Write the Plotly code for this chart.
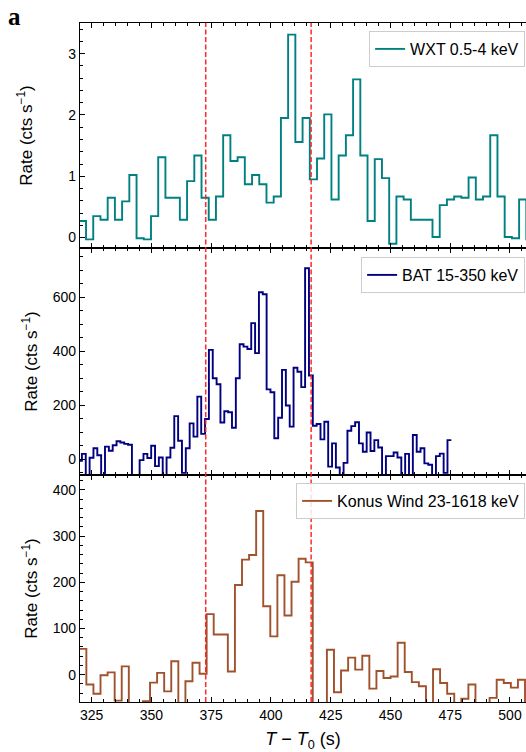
import numpy as np
import plotly.graph_objects as go

# ---------------- data ----------------
# WXT 0.5-4 keV light curve (rate, cts/s), bin start & width (s)
wxt_t0 = 319.6
wxt_dt = 3.02
wxt_rate = [0.27, -0.03, 0.35, 0.29, 0.65, 0.29, 0.59, 1.02, -0.01, -0.03,
            0.35, 1.31, 0.65, 0.65, 0.29, 0.92, 1.34, 0.65, 0.29, 0.67,
            1.67, 1.25, 1.31, 0.87, 1.02, 0.87, 0.57, 0.67, 1.95, 3.31,
            1.56, 1.95, 0.95, 1.29, 2.01, 0.62, 1.34, 1.67, 2.58, 1.34,
            0.27, 1.28, 0.97, -0.10, 0.67, 0.62, 0.29, 0.29, 0.29, 0.01,
            0.53, 0.62, 0.67, 0.65, 0.98, 0.62, 0.67, 1.67, 0.67, 0.01,
            -0.01, 0.62, -0.03]

# BAT 15-350 keV light curve
bat_t0 = 319.29
bat_dt = 1.61
bat_rate = [-5, 20, -100, 6, 41, 15, -100, 47, 32, 52,
            67, 62, 57, 54, -100, -100, -3, 20, 5, 50,
            -25, 7, -100, 7, 43, 160, 69, -50, 41, 133,
            84, 232, 94, 149, 405, 300, 278, 136, 178, 174,
            117, 300, 426, 417, 408, 504, 393, 618, 611, 259,
            248, 78, 154, 331, 199, 121, 339, 324, 267, 707,
            310, 124, 131, 74, 139, -27, 59, -30, -100, -13,
            106, 123, 137, 59, 28, 99, 31, 71, 44, -100,
            12, 12, 25, 7, -100, 20, -100, 90, 28, 41,
            -15, -20, -100, 12, 21, -50, 71]

# Konus-Wind 23-1618 keV light curve
kw_t0 = 319.8
kw_dt = 2.96
kw_rate = [56, -21, -41, -1, 5, -56, 18, -100, -100, -57,
           -17, 4, -36, 29, -100, -14, 26, 2, 131, 87,
           87, 7, 194, 249, 259, 354, 148, 83, 215, 128,
           201, 251, 243, -100, -100, 54, -38, 9, 37, 11,
           41, -30, 8, -7, -4, 69, 6, -16, -25, -100,
           12, -18, -41, -100, -52, -21, -100, -100, -50, -11,
           -18, -28, -11, -100]

# marked times (dashed lines)
t_marks = [372.7, 416.8]

x_ticks = [325, 350, 375, 400, 425, 450, 475, 500]
wxt_yticks = [0, 1, 2, 3]
bat_yticks = [0, 200, 400, 600]
kw_yticks = [0, 100, 200, 300, 400]

labels = ["WXT 0.5-4 keV", "BAT 15-350 keV", "Konus Wind 23-1618 keV"]
colors = ["#008080", "#000080", "#A0522D"]

# ---------------- figure ----------------
W, H = 526, 752
mt, mb, ml, mr = 23, 50, 80, 0
ph = H - mt - mb
d1 = (702 - 475) / ph
d2 = (702 - 248) / ph

FONT = "Liberation Sans, Arial, sans-serif"

fig = go.Figure()

def step_xy(t0, dt, vals):
    n = len(vals)
    x = t0 + dt * np.arange(n + 1)
    y = list(vals) + [vals[-1]]
    return x, y

series = [(wxt_t0, wxt_dt, wxt_rate), (bat_t0, bat_dt, bat_rate), (kw_t0, kw_dt, kw_rate)]
axes = [("x", "y"), ("x2", "y2"), ("x3", "y3")]
legends = ["legend", "legend2", "legend3"]
for (t0, dt, vals), (xa, ya), lab, col, lg in zip(series, axes, labels, colors, legends):
    x, y = step_xy(t0, dt, vals)
    fig.add_trace(go.Scatter(x=x, y=y, mode="lines", line=dict(shape="hv", color=col, width=1.9),
                             name=lab, xaxis=xa, yaxis=ya, legend=lg, showlegend=True))

xr = [320.1, 506.7]
common_x = dict(range=xr, showline=True, linecolor="black", linewidth=1.2, mirror="allticks",
                ticks="inside", ticklen=5, tickwidth=1, tickcolor="black",
                tickvals=x_ticks, showgrid=False, zeroline=False,
                minor=dict(dtick=5, tick0=325, ticks="inside", ticklen=2.5, tickcolor="black", tickwidth=1),
                tickfont=dict(family=FONT, size=14, color="black"))
fig.update_layout(
    xaxis=dict(common_x, domain=[0, 1], anchor="y", showticklabels=False, matches="x3"),
    xaxis2=dict(common_x, domain=[0, 1], anchor="y2", showticklabels=False, matches="x3"),
    xaxis3=dict(common_x, domain=[0, 1], anchor="y3", showticklabels=True,
                title=dict(text="<i>T</i> − <i>T</i><sub>0</sub> (s)", standoff=16,
                           font=dict(family=FONT, size=18, color="black"))),
)

def yax(dom, rng, tv, minor_dt, anchor, standoff):
    return dict(domain=dom, range=rng, anchor=anchor, showline=True, linecolor="black", linewidth=1.2,
                ticks="inside", ticklen=5, tickwidth=1, tickcolor="black", tickvals=tv,
                showgrid=False, zeroline=False,
                minor=dict(dtick=minor_dt, tick0=0, ticks="inside", ticklen=2.5, tickcolor="black", tickwidth=1),
                tickfont=dict(family=FONT, size=14, color="black"),
                title=dict(text="Rate (cts s<sup>−1</sup>)", standoff=standoff,
                           font=dict(family=FONT, size=17, color="black")))

fig.update_layout(
    yaxis=yax([d2, 1], [-0.17, 3.5], wxt_yticks, 0.2, "x", 31),
    yaxis2=yax([d1, d2], [-58, 782], bat_yticks, 50, "x2", 10),
    yaxis3=yax([0, d1], [-59, 432], kw_yticks, 20, "x3", 10),
)

for t in t_marks:
    fig.add_shape(type="line", xref="x3", yref="paper", x0=t, x1=t, y0=0, y1=1,
                  line=dict(color="rgba(255,30,30,0.95)", width=1.5, dash="5px,2.5px"), layer="above")

leg_common = dict(xanchor="right", yanchor="top", x=0.998, bgcolor="rgba(255,255,255,0.85)",
                  bordercolor="#cccccc", borderwidth=1,
                  font=dict(family=FONT, size=16, color="black"))
fig.update_layout(
    legend=dict(leg_common, y=(702 - 31) / ph),
    legend2=dict(leg_common, y=(702 - 257) / ph),
    legend3=dict(leg_common, y=(702 - 483) / ph),
)

fig.add_annotation(text="<b>a</b>", xref="paper", yref="paper", x=-ml / (W - ml - mr) + 0.014, y=1 + (mt - 1) / ph,
                   xanchor="left", yanchor="top", showarrow=False,
                   font=dict(family="Liberation Serif, Times New Roman, serif", size=25, color="black"))

fig.update_layout(width=W, height=H, margin=dict(t=mt, b=mb, l=ml, r=mr),
                  plot_bgcolor="white", paper_bgcolor="white")

fig.write_html("out.html")
